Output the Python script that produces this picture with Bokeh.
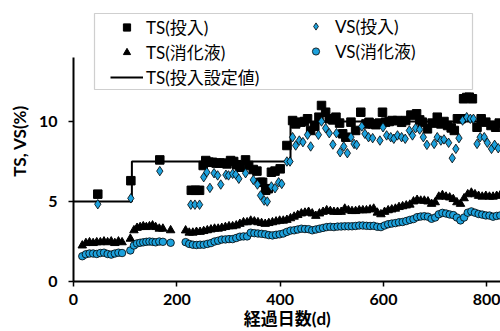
from bokeh.plotting import figure
from bokeh.models import Range1d, FixedTicker, Legend, LegendItem, BoxAnnotation
from bokeh.embed import file_html
from bokeh.resources import INLINE

# ---- measured series -------------------------------------------------------
# TS of the feed (投入), %
ts_in_days = [47, 111, 167, 228, 236, 244, 251, 256, 262, 269,
              276, 283, 291, 297, 304, 310, 316, 322, 333, 339,
              348, 355, 362, 366, 372, 377, 383, 390, 400, 413,
              424, 430, 440, 447, 453, 459, 467, 475, 480, 488,
              495, 502, 508, 515, 521, 527, 537, 546, 556, 566,
              572, 579, 585, 592, 598, 604, 611, 617, 627, 635,
              643, 653, 664, 670, 675, 685, 694, 704, 711, 717,
              724, 731, 737, 743, 750, 755, 761, 766, 772, 781,
              789, 798, 808, 817, 824]
ts_in_vals = [5.46, 6.30, 7.60, 5.70, 5.70, 5.70, 7.25, 7.56, 7.46, 7.45,
              7.40, 7.40, 7.40, 7.35, 7.56, 7.50, 7.30, 7.14, 7.60, 7.25,
              7.00, 6.90, 6.20, 6.20, 5.70, 5.80, 6.83, 6.90, 7.04, 8.50,
              10.06, 9.85, 9.96, 10.00, 10.17, 9.44, 9.70, 10.27, 11.00, 10.58,
              10.17, 10.10, 10.27, 9.90, 9.23, 9.02, 9.96, 9.44, 10.58, 9.85,
              9.95, 9.85, 9.80, 9.90, 10.58, 9.96, 10.00, 10.06, 10.06, 9.95,
              10.06, 10.40, 10.48, 10.10, 9.96, 9.54, 9.90, 10.27, 9.85, 10.00,
              9.75, 9.60, 9.44, 10.17, 10.17, 11.42, 11.50, 11.52, 11.42, 9.64,
              10.17, 9.96, 9.75, 9.64, 9.90]

# VS of the feed (投入), %
vs_in_days = [47, 111, 167, 227, 235, 244, 252, 258, 264, 272,
              279, 285, 295, 300, 308, 314, 320, 333, 348, 356,
              362, 369, 375, 383, 390, 397, 403, 413, 419, 424,
              430, 437, 444, 453, 459, 474, 480, 488, 495, 502,
              509, 516, 523, 530, 537, 543, 548, 558, 564, 571,
              579, 593, 599, 606, 614, 620, 627, 635, 642, 650,
              656, 662, 670, 677, 684, 698, 704, 711, 717, 726,
              733, 740, 746, 753, 761, 768, 774, 781, 787, 795,
              801, 809, 815, 822]
vs_in_vals = [4.83, 5.20, 6.90, 4.80, 4.80, 4.80, 6.52, 6.83, 5.85, 6.77,
              6.63, 6.06, 6.67, 6.63, 6.73, 6.69, 6.42, 6.77, 6.35, 6.06,
              5.38, 5.06, 5.00, 5.94, 5.83, 6.20, 6.10, 7.50, 7.50, 9.02,
              8.50, 8.81, 8.71, 9.17, 8.44, 9.17, 10.00, 9.58, 9.27, 8.56,
              9.27, 8.08, 8.44, 8.02, 9.02, 8.60, 8.54, 9.69, 9.23, 9.02,
              8.96, 8.81, 9.64, 9.13, 9.02, 8.92, 9.13, 9.02, 8.92, 9.44,
              9.13, 9.58, 9.50, 9.02, 8.54, 8.60, 9.02, 8.81, 8.88, 8.67,
              7.71, 8.29, 8.96, 10.06, 10.27, 10.17, 10.17, 8.60, 9.02, 9.02,
              8.67, 8.29, 8.54, 8.33]

# Sampling days of the digestate (消化液)
dig_days = [17, 24, 31, 38, 45, 52, 59, 66, 73, 80, 87, 94,
            110, 117, 123, 129, 135, 141, 147, 153, 159, 166, 173, 188,
            217, 224, 231, 238, 245, 252, 259, 266, 273, 280,
            287, 294, 301, 308, 315, 322, 329, 336, 343, 350,
            357, 364, 371, 378, 385, 392, 399, 406, 413, 420,
            427, 434, 441, 448, 455, 462, 469, 476, 483, 490,
            497, 504, 511, 518, 525, 532, 539, 546, 553, 560,
            567, 574, 581, 588, 595, 602, 609, 616, 623, 630,
            637, 644, 651, 658, 665, 672, 679, 686, 693, 700,
            707, 714, 721, 728, 735, 742, 749, 756, 763, 770,
            777, 784, 791, 798, 805, 812, 819, 826]

# TS of the digestate, %
ts_dig_vals = [2.25, 2.40, 2.45, 2.40, 2.45, 2.45, 2.50, 2.45, 2.50, 2.40, 2.50, 2.45,
               2.67, 3.20, 3.35, 3.40, 3.45, 3.40, 3.45, 3.50, 3.40, 3.30, 3.30, 3.20,
               3.19, 3.05, 3.05, 3.10, 3.10, 3.15, 3.20, 3.25, 3.30, 3.30,
               3.35, 3.40, 3.45, 3.45, 3.50, 3.60, 3.70, 3.70, 3.80, 3.75,
               3.70, 3.65, 3.60, 3.65, 3.70, 3.75, 3.80, 3.80, 3.85, 3.95,
               4.05, 4.15, 4.25, 4.30, 4.35, 4.25, 4.10, 4.25, 4.35, 4.45,
               4.40, 4.35, 4.35, 4.35, 4.55, 4.45, 4.40, 4.40, 4.45, 4.45,
               4.45, 4.50, 4.55, 4.30, 4.20, 4.35, 4.45, 4.50, 4.55, 4.65,
               4.70, 4.75, 4.80, 5.00, 5.10, 5.05, 5.05, 5.00, 4.85, 4.95,
               5.30, 5.40, 5.30, 5.25, 5.15, 4.95, 4.85, 5.20, 5.45, 5.55,
               5.45, 5.35, 5.30, 5.35, 5.30, 5.30, 5.35, 5.40]

# VS of the digestate, %
vs_dig_vals = [1.58, 1.70, 1.75, 1.75, 1.72, 1.78, 1.80, 1.72, 1.68, 1.75, 1.80, 1.78,
               1.94, 2.25, 2.38, 2.42, 2.45, 2.48, 2.50, 2.48, 2.45, 2.50, 2.48, 2.42,
               2.46, 2.35, 2.30, 2.28, 2.30, 2.30, 2.35, 2.40, 2.50, 2.55,
               2.62, 2.63, 2.65, 2.65, 2.72, 2.80, 2.82, 2.82, 3.05, 3.02,
               3.00, 2.98, 2.95, 2.90, 2.88, 2.92, 2.95, 3.00, 3.10, 3.18,
               3.20, 3.25, 3.30, 3.28, 3.27, 3.20, 3.25, 3.30, 3.35, 3.40,
               3.42, 3.40, 3.43, 3.44, 3.45, 3.45, 3.45, 3.47, 3.50, 3.50,
               3.48, 3.47, 3.48, 3.42, 3.40, 3.50, 3.58, 3.62, 3.65, 3.70,
               3.72, 3.78, 3.85, 3.90, 4.02, 4.06, 4.08, 4.05, 3.92, 4.00,
               4.20, 4.29, 4.25, 4.19, 4.15, 4.00, 3.82, 4.00, 4.30, 4.38,
               4.30, 4.22, 4.18, 4.13, 4.12, 4.05, 4.10, 4.13]

# Feed TS set point (step changes)
set_days = [0, 113, 420, 826]
set_vals = [5.0, 7.5, 10.0, 10.0]

x_ticks = [0, 200, 400, 600, 800]
y_ticks = [0, 5, 10]

FONT = "Lato, 'Noto Sans CJK JP', sans-serif"
BLUE = "#1da1dc"

# ---- figure ----------------------------------------------------------------
p = figure(width=500, height=331, output_backend="svg", toolbar_location=None,
           x_range=Range1d(0, 826.4), y_range=Range1d(0, 17.5625),
           min_border_left=73, min_border_right=0, min_border_top=0,
           min_border_bottom=50)
p.outline_line_color = None
p.grid.visible = False
p.background_fill_color = "white"
p.border_fill_color = "white"

r_set = p.step(set_days, set_vals, mode="after", line_color="black", line_width=2)
r_ts_in = p.scatter(ts_in_days, ts_in_vals, marker="square", size=8.5,
                    fill_color="black", line_color="black")
r_ts_dig = p.scatter(dig_days, ts_dig_vals, marker="triangle", size=8.5,
                     fill_color="black", line_color="black")
r_vs_in = p.scatter(vs_in_days, vs_in_vals, marker="diamond", size=9.5,
                    fill_color=BLUE, line_color="black", line_width=0.8)
r_vs_dig = p.scatter(dig_days, vs_dig_vals, marker="circle", size=7.5,
                     fill_color=BLUE, line_color="black", line_width=0.8)

# ---- axes ------------------------------------------------------------------
p.xaxis.ticker = FixedTicker(ticks=x_ticks)
p.yaxis.ticker = FixedTicker(ticks=y_ticks)
p.yaxis.bounds = (0, 14)
p.xaxis.axis_label = "経過日数(d)"
p.yaxis.axis_label = "TS, VS(%)"
for ax in (p.xaxis[0], p.yaxis[0]):
    ax.axis_line_color = "black"
    ax.axis_line_width = 2
    ax.major_tick_line_color = "black"
    ax.major_tick_line_width = 1.5
    ax.major_tick_out = 5
    ax.major_tick_in = 0
    ax.minor_tick_line_color = None
    ax.major_label_text_font = FONT
    ax.major_label_text_font_size = "16px"
    ax.major_label_text_font_style = "bold"
    ax.major_label_text_color = "black"
    ax.axis_label_text_font = FONT
    ax.axis_label_text_font_size = "17px"
    ax.axis_label_text_font_style = "bold"
    ax.axis_label_text_color = "black"
p.xaxis.major_label_standoff = 7
p.xaxis.axis_label_standoff = 0
p.yaxis.major_label_standoff = 11
p.yaxis.axis_label_standoff = 6

# ---- legend ----------------------------------------------------------------
# frame of the legend, in canvas pixels
legend_box = BoxAnnotation(left=94, right=472, top=13, bottom=89,
                           left_units="canvas", right_units="canvas",
                           top_units="canvas", bottom_units="canvas",
                           fill_color="white", fill_alpha=1.0,
                           line_color="#606060", line_width=1.2)
p.add_layout(legend_box)

common = dict(orientation="vertical", padding=0, margin=0, spacing=0,
              glyph_width=33, glyph_height=18, label_height=18,
              label_standoff=3, label_text_font=FONT,
              label_text_font_size="17px", label_text_color="black",
              background_fill_alpha=0, border_line_alpha=0)
leg_ts = Legend(items=[LegendItem(label="TS(投入)", renderers=[r_ts_in]),
                       LegendItem(label="TS(消化液)", renderers=[r_ts_dig]),
                       LegendItem(label="TS(投入設定値)", renderers=[r_set])],
                location=(37, 192), **common)
leg_vs = Legend(items=[LegendItem(label="VS(投入)", renderers=[r_vs_in]),
                       LegendItem(label="VS(消化液)", renderers=[r_vs_dig])],
                location=(226, 218), **common)
p.add_layout(leg_ts)
p.add_layout(leg_vs)

open("out.html", "w").write(file_html(p, INLINE))
